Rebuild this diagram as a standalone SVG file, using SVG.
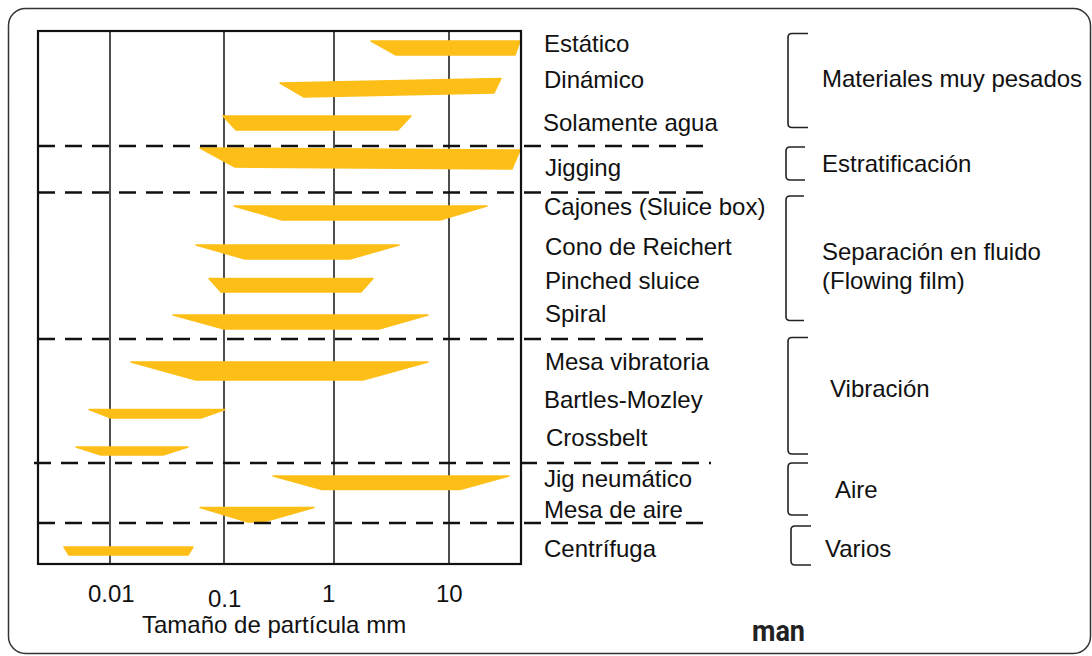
<svg xmlns="http://www.w3.org/2000/svg" width="1092" height="656" viewBox="0 0 1092 656">
  <style>
    .t { font-family: "Liberation Sans", Arial, sans-serif; font-size: 24px; fill: #111; }
    .bar { fill: #FDBF17; stroke: #FDBF17; stroke-width: 1.5; stroke-linejoin: round; }
    .grid { stroke: #222; stroke-width: 1.6; fill: none; }
    .box { stroke: #111; stroke-width: 2.2; fill: none; }
    .sep { stroke: #111; stroke-width: 2.6; stroke-dasharray: 17 10; fill: none; }
    .brk { stroke: #222; stroke-width: 1.6; fill: none; stroke-linejoin: round; }
  </style>
  <rect width="1092" height="656" fill="#fff"/>
  <rect id="frame" x="8.5" y="8.5" width="1082" height="645" rx="17" fill="none" stroke="#333" stroke-width="1.5"/>

  <g id="grid">
    <line class="grid" x1="110" y1="31" x2="110" y2="564"/>
    <line class="grid" x1="224" y1="31" x2="224" y2="564"/>
    <line class="grid" x1="334" y1="31" x2="334" y2="564"/>
    <line class="grid" x1="449" y1="31" x2="449" y2="564"/>
  </g>

  <g id="bars">
    <g id="estatico"><polygon class="bar" points="371,41 520,41 515,55 396,55"/><text class="t" x="544" y="52">Estático</text></g>
    <g id="dinamico"><polygon class="bar" points="280,83 501,78.5 494,93 304,97"/><text class="t" x="544" y="88">Dinámico</text></g>
    <g id="solamente-agua"><polygon class="bar" points="223,116 411,116 398,130 236,130"/><text class="t" x="543" y="131">Solamente agua</text></g>
    <g id="jigging"><polygon class="bar" points="200,148 520,150 512,169 235,167"/><text class="t" x="545" y="176">Jigging</text></g>
    <g id="cajones"><polygon class="bar" points="234,206 487,206 440,220 282,220"/><text class="t" x="544" y="215">Cajones (Sluice box)</text></g>
    <g id="cono"><polygon class="bar" points="196,245 399,245 350,259 245,259"/><text class="t" x="545" y="255">Cono de Reichert</text></g>
    <g id="pinched"><polygon class="bar" points="209,278.5 373,278.5 361,292 221,292"/><text class="t" x="545" y="289">Pinched sluice</text></g>
    <g id="spiral"><polygon class="bar" points="173,315 428,315 379,329 224,329"/><text class="t" x="545" y="322">Spiral</text></g>
    <g id="mesa-vibratoria"><polygon class="bar" points="131,362 428,362 363,380 196,380"/><text class="t" x="545" y="370">Mesa vibratoria</text></g>
    <g id="bartles"><polygon class="bar" points="89,409.5 225,409.5 201,418 111,418"/><text class="t" x="544" y="408">Bartles-Mozley</text></g>
    <g id="crossbelt"><polygon class="bar" points="76,447 188,447 163,455 101,455"/><text class="t" x="546" y="446">Crossbelt</text></g>
    <g id="jig-neumatico"><polygon class="bar" points="273,476 509,476 460,489.5 322,489.5"/><text class="t" x="544" y="487">Jig neumático</text></g>
    <g id="mesa-aire"><polygon class="bar" points="200,507.5 314,507.5 263,522 248,522"/><text class="t" x="544" y="518">Mesa de aire</text></g>
    <g id="centrifuga"><polygon class="bar" points="64,547 193,547 188,555 69,555"/><text class="t" x="544" y="557">Centrífuga</text></g>
  </g>

  <g id="chart-box">
    <rect class="box" x="38" y="31" width="483" height="533"/>
  </g>

  <g id="connectors">
    <line class="sep" x1="38" y1="146" x2="711" y2="146"/>
    <line class="sep" x1="38" y1="192.5" x2="711" y2="192.5"/>
    <line class="sep" x1="38" y1="339" x2="711" y2="339"/>
    <line class="sep" x1="34" y1="463" x2="711" y2="463"/>
    <line class="sep" x1="38" y1="523" x2="711" y2="523"/>
  </g>

  <g id="axis">
    <text class="t" x="88" y="602">0.01</text>
    <text class="t" x="208" y="607">0.1</text>
    <text class="t" x="322" y="602">1</text>
    <text class="t" x="436" y="602">10</text>
    <text class="t" x="142" y="633">Tamaño de partícula mm</text>
  </g>

  <g id="grp-materiales">
    <path class="brk" d="M808,33.5 L792,33.5 Q788,33.5 788,37.5 L788,123.5 Q788,127.5 792,127.5 L808,127.5"/>
    <text class="t" x="822" y="87">Materiales muy pesados</text>
  </g>
  <g id="grp-estratificacion">
    <path class="brk" d="M805,147 L790,147 Q786,147 786,151 L786,176 Q786,180 790,180 L805,180"/>
    <text class="t" x="822" y="172">Estratificación</text>
  </g>
  <g id="grp-separacion">
    <path class="brk" d="M804,196 L790,196 Q786,196 786,200 L786,316.5 Q786,320.5 790,320.5 L804,320.5"/>
    <text class="t" x="822" y="260">Separación en fluido</text>
    <text class="t" x="822" y="289">(Flowing film)</text>
  </g>
  <g id="grp-vibracion">
    <path class="brk" d="M808,337.5 L792,337.5 Q788,337.5 788,341.5 L788,450 Q788,454 792,454 L808,454"/>
    <text class="t" x="830" y="397">Vibración</text>
  </g>
  <g id="grp-aire">
    <path class="brk" d="M808,463 L792,463 Q788,463 788,467 L788,511 Q788,515 792,515 L808,515"/>
    <text class="t" x="835" y="498">Aire</text>
  </g>
  <g id="grp-varios">
    <path class="brk" d="M811,526 L795,526 Q791,526 791,530 L791,561 Q791,565 795,565 L811,565"/>
    <text class="t" x="825" y="557">Varios</text>
  </g>

  <text x="752" y="641" font-family="Roboto, 'Liberation Sans', sans-serif" font-weight="700" font-size="30" textLength="53" lengthAdjust="spacingAndGlyphs" fill="#222">man</text>
</svg>
